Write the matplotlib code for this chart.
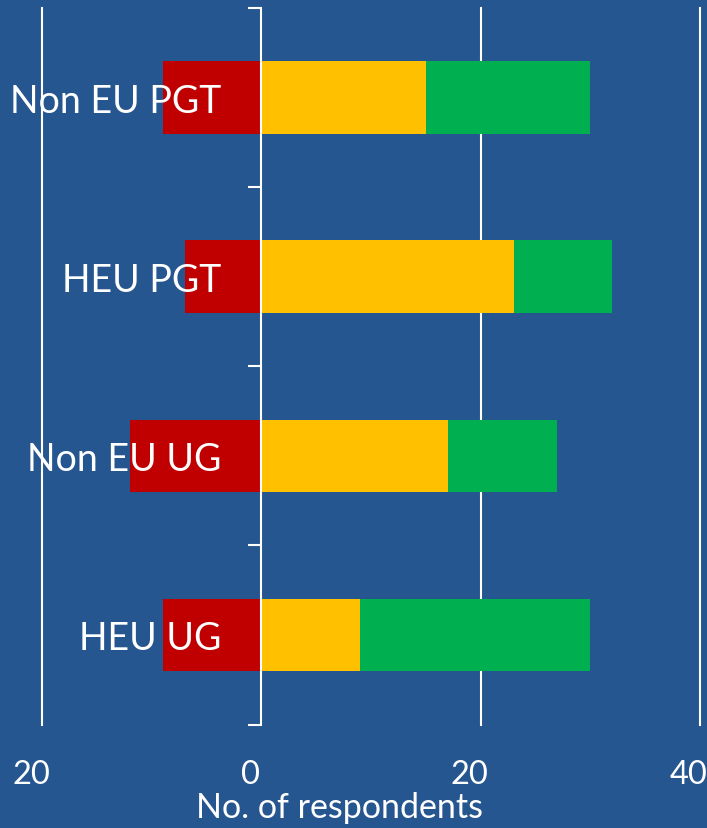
import matplotlib.pyplot as plt
import matplotlib.transforms as mtransforms

# data, top to bottom
groups = ["Non EU PGT", "HEU PGT", "Non EU UG", "HEU UG"]
negative = [9, 7, 12, 9]
neutral = [15, 23, 17, 9]
positive = [15, 9, 10, 21]

xticks = [-20, 0, 20, 40]
xtick_labels = ["20", "0", "20", "40"]

BG = "#26568F"
RED = "#C00000"
YELLOW = "#FFC000"
GREEN = "#00B050"

plt.rcParams["font.family"] = ["Lato", "DejaVu Sans"]

fig = plt.figure(figsize=(7.07, 8.29), dpi=100, facecolor=BG)
W, H = 707, 829
ax = fig.add_axes([42 / W, 1 - 725.5 / H, (700 - 42) / W, (725.5 - 9) / H])
ax.set_facecolor(BG)

ypos = list(range(len(groups)))[::-1]
h = 0.405
ax.barh(ypos, [-v for v in negative], height=h, color=RED, zorder=1)
ax.barh(ypos, neutral, height=h, color=YELLOW, zorder=1)
ax.barh(ypos, positive, left=neutral, height=h, color=GREEN, zorder=1)

ax.set_xlim(-20, 40)
ax.set_ylim(-0.5, len(groups) - 0.5)

# vertical gridlines
for x in (-20, 20, 40):
    ax.axvline(x, color="white", lw=1.5, zorder=0.5, clip_on=False)

for s in ("top", "right", "bottom"):
    ax.spines[s].set_visible(False)
ax.spines["left"].set_position(("data", 0))
ax.spines["left"].set_color("white")
ax.spines["left"].set_linewidth(1.5)

# boundary ticks on the zero axis
ax.set_yticks([i - 0.5 for i in range(len(groups) + 1)])
ax.set_yticklabels([])
ax.tick_params(axis="y", which="major", direction="out", length=9.5,
               width=1.5, color="white")
ax.set_yticks(ypos, minor=True)
ax.set_yticklabels(groups, minor=True)
ax.tick_params(axis="y", which="minor", length=0, pad=29, labelsize=27,
               labelcolor="white")

ax.set_xticks(xticks)
ax.set_xticklabels(xtick_labels)
ax.tick_params(axis="x", length=0, pad=25, labelsize=23.5, labelcolor="white")
offset = mtransforms.ScaledTranslation(-11 / 100, 0, fig.dpi_scale_trans)
for lab in ax.get_xticklabels():
    lab.set_transform(lab.get_transform() + offset)

ax.set_xlabel("No. of respondents", fontsize=24.5, color="white", va="center")
ax.xaxis.set_label_coords((340 - 42) / 658, (725.5 - 808) / 716.5)

fig.savefig("out.png", dpi=100, facecolor=BG)
